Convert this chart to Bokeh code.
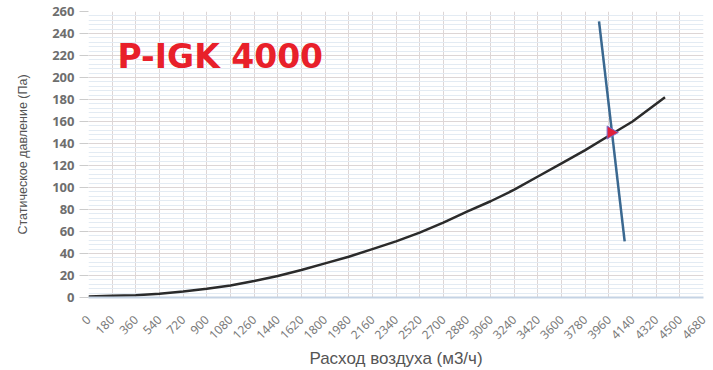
import math
from bokeh.plotting import figure
from bokeh.models import FixedTicker, Range1d, Label
from bokeh.embed import file_html
from bokeh.resources import INLINE

# Fan curve (airflow m3/h vs static pressure Pa)
fan_x = [0, 180, 360, 540, 720, 900, 1080, 1260, 1440, 1620, 1800, 1980, 2160,
         2340, 2520, 2700, 2880, 3060, 3240, 3420, 3600, 3780, 3960, 4140, 4387]
fan_y = [1, 1.5, 2, 3.5, 5.5, 8, 11, 15, 19.5, 25, 31, 37, 44,
         51, 59, 68, 78, 87.5, 98, 110, 122, 134, 147, 160, 182]

# System (duct) line
sys_x = [3885, 4080]
sys_y = [251, 51]

# Operating point
op_x = [3975]
op_y = [150]

x_ticks = list(range(0, 4681, 180))
y_ticks = list(range(0, 261, 20))
y_minor = list(range(0, 261, 4))

title_text = "P-IGK 4000"
x_label = "Расход воздуха (м3/ч)"
y_label = "Статическое давление (Па)"

p = figure(width=713, height=370, frame_width=615, frame_height=286,
           output_backend="svg", toolbar_location=None,
           x_range=Range1d(0, 4680), y_range=Range1d(0, 260),
           min_border_left=88, min_border_right=10, min_border_top=11,
           min_border_bottom=73)
p.outline_line_color = None
p.background_fill_color = "white"

# grids
p.xgrid.ticker = FixedTicker(ticks=x_ticks)
p.xgrid.grid_line_color = "#ddd6d6"
p.xgrid.grid_line_width = 1
p.ygrid.ticker = FixedTicker(ticks=y_ticks, minor_ticks=y_minor)
p.ygrid.grid_line_color = "#ddd6d6"
p.ygrid.minor_grid_line_color = "#e3ebf3"
p.ygrid.minor_grid_line_width = 1

# x axis
xa = p.xaxis[0]
xa.ticker = FixedTicker(ticks=x_ticks)
xa.major_label_orientation = math.pi / 4
xa.axis_line_color = "#c5d3e4"
xa.axis_line_width = 2
xa.major_tick_line_color = None
xa.minor_tick_line_color = None
xa.major_label_text_color = "#7a7a7a"
xa.major_label_text_font = "Noto Sans"
xa.major_label_text_font_size = "12px"
xa.major_label_standoff = 14
xa.axis_label = x_label
xa.axis_label_text_font = "Liberation Sans"
xa.axis_label_text_font_style = "normal"
xa.axis_label_text_font_size = "17px"
xa.axis_label_text_color = "#555555"
xa.axis_label_standoff = 3

# y axis
ya = p.yaxis[0]
ya.ticker = FixedTicker(ticks=y_ticks)
ya.axis_line_color = None
ya.major_tick_out = 9
ya.major_tick_in = 0
ya.major_tick_line_color = "#cccccc"
ya.minor_tick_line_color = None
ya.major_label_text_color = "#6e6e6e"
ya.major_label_text_font = "Noto Sans"
ya.major_label_text_font_style = "bold"
ya.major_label_text_font_size = "13px"
ya.major_label_standoff = 5
ya.axis_label = y_label
ya.axis_label_text_font = "Liberation Sans"
ya.axis_label_text_font_style = "normal"
ya.axis_label_text_font_size = "12.5px"
ya.axis_label_text_color = "#555555"
ya.axis_label_standoff = 19

# data
p.line(fan_x, fan_y, line_color="#2b2b2b", line_width=2.5)
p.line(sys_x, sys_y, line_color="#3a6890", line_width=2.5)
p.scatter(op_x, op_y, marker="triangle", angle=-math.pi / 2, size=13,
          fill_color="#e0203a", line_color="#7a70d0", line_width=1)

title = Label(x=29, y=241, x_units="screen", y_units="screen",
              text=title_text, text_color="#e8202a", text_baseline="alphabetic",
              text_font="DejaVu Sans", text_font_style="bold",
              text_font_size="33px")
p.add_layout(title)

open("out.html", "w").write(file_html(p, INLINE))
